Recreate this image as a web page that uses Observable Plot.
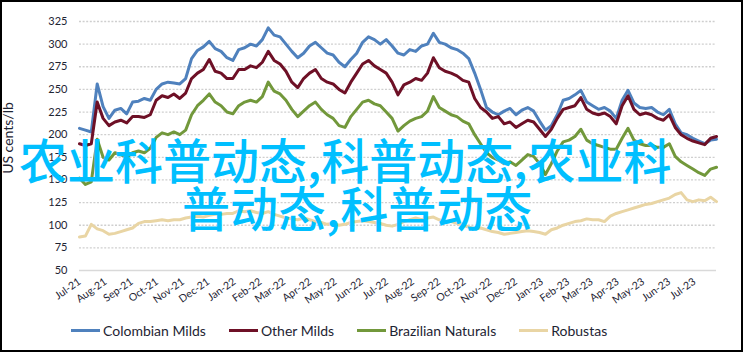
<!DOCTYPE html>
<html><head><meta charset="utf-8">
<script src="https://cdn.jsdelivr.net/npm/d3@7"></script>
<script src="https://cdn.jsdelivr.net/npm/@observablehq/plot@0.6"></script>
<style>
body{margin:0;background:#fff;}
#wrap{position:relative;width:743px;height:352px;overflow:hidden;background:#fff;font-family:Lato,sans-serif;}
#chart{position:absolute;left:0;top:0;}
#frame{position:absolute;left:0;top:0;width:743px;height:352px;box-sizing:border-box;border:2px solid #000;pointer-events:none;}
.ov{position:absolute;font-family:"Noto Sans CJK SC";font-size:48px;line-height:48px;color:#00bfff;white-space:nowrap;font-weight:500;}
#legend{position:absolute;left:71px;top:322px;display:flex;gap:23px;font-size:14px;line-height:17px;color:#1e2433;align-items:center;font-family:Lato,sans-serif;}
.item{display:flex;align-items:center;}
.sw{width:29px;height:3px;margin-right:3px;}
#ylab{position:absolute;left:8px;top:138px;transform:translate(-50%,-50%) rotate(-90deg);font-size:14px;line-height:16px;color:#1e2433;white-space:nowrap;font-family:Lato,sans-serif;}
g[aria-label="x-axis tick label"] text{font-size:10.5px;}
</style></head>
<body>
<div id="wrap">
  <div id="chart"></div>
  <div id="ylab"></div>
  <div class="ov" style="left:19px;top:134px;">农业科普动态,科普动态,农业科</div>
  <div class="ov" style="left:182px;top:182px;">普动态,科普动态</div>
  <div id="legend"></div>
  <div id="frame"></div>
</div>
<script>
const seriesNames = ["Colombian Milds", "Other Milds", "Brazilian Naturals", "Robustas"];
const seriesColors = ["#4f81bd", "#6e1026", "#72983b", "#e9d5a4"];
const yTicks = [50, 75, 100, 125, 150, 175, 200, 225, 250, 275, 300, 325];
const yTitle = "US cents/lb";
const weekStart = "2021-07-01"; // weekly observations start here

const colombianMilds = [
207,205,203,256,231,218,227,229,223,236,
237,240,238,250,256,258,257,256,262,284,
293,297,303,295,292,285,282,294,296,300,
298,305,318,310,308,300,292,285,290,298,
302,296,290,288,280,275,283,290,302,308,
305,300,305,298,290,288,294,292,298,300,
312,302,300,296,294,290,284,268,250,230,
225,222,226,229,222,227,230,226,215,205,
210,222,238,240,244,249,236,232,228,230,
226,218,238,249,235,230,229,230,225,222,
228,212,202,200,196,193,190,194,195];

const otherMilds = [
190,188,190,236,218,210,214,216,213,220,
220,219,222,238,243,241,245,240,246,262,
268,272,283,270,268,262,262,272,272,276,
274,280,292,282,278,270,258,252,262,268,
272,262,258,256,250,246,258,268,278,282,
276,272,268,258,244,255,258,262,260,268,
285,274,270,268,265,260,258,240,230,225,
218,220,212,214,208,212,216,214,206,198,
206,218,228,230,232,241,228,224,222,224,
220,212,232,243,228,222,224,222,218,216,
222,208,200,196,193,191,189,196,198];

const brazilianNaturals = [
152,145,148,195,175,172,180,178,175,180,
182,180,185,197,202,200,203,200,205,222,
232,238,245,236,232,225,223,232,236,238,
236,242,258,248,245,238,228,220,226,232,
236,228,222,218,210,208,220,228,236,238,
234,232,225,218,204,210,215,218,220,226,
242,230,226,222,220,215,212,200,190,180,
175,172,168,170,166,172,178,176,168,156,
168,182,192,194,198,206,194,190,188,186,
184,184,196,207,194,190,188,188,186,186,
190,176,170,166,162,158,155,162,164];

const robustas = [
87,88,101,96,94,90,91,93,95,97,
102,104,104,105,106,105,106,106,108,109,
110,109,111,112,112,113,113,116,115,116,
114,113,115,112,110,108,107,106,108,106,
104,103,101,102,100,101,103,104,105,104,
103,102,100,99,101,104,106,108,106,108,
109,106,104,104,102,100,98,96,97,95,
93,92,90,91,92,93,94,93,92,90,
95,97,100,102,104,105,107,106,106,104,
110,113,115,117,119,121,123,124,126,128,
130,134,136,128,126,128,127,131,126];

const allSeries = [colombianMilds, otherMilds, brazilianNaturals, robustas];
const start = new Date(weekStart + "T00:00:00Z");
const dates = colombianMilds.map((_, i) => d3.utcDay.offset(start, 7 * i));
const rows = [];
allSeries.forEach((vals, s) => vals.forEach((v, i) => rows.push({series: seriesNames[s], date: dates[i], value: v})));
const monthTicks = d3.utcMonth.range(start, d3.utcDay.offset(dates[dates.length - 1], 1));

const chart = Plot.plot({
  width: 743,
  height: 305,
  marginLeft: 79,
  marginRight: 27,
  marginTop: 21,
  marginBottom: 35,
  style: {fontFamily: "Lato, sans-serif", fontSize: "11px", color: "#1e2433", background: "transparent"},
  x: {type: "utc", domain: [dates[0], dates[dates.length - 1]], ticks: monthTicks, tickFormat: d3.utcFormat("%b-%y"), tickRotate: -35, tickSize: 0, tickPadding: 10, label: null},
  y: {domain: [50, 325], ticks: yTicks, tickSize: 0, tickPadding: 12, label: null},
  color: {domain: seriesNames, range: seriesColors},
  marks: [
    Plot.ruleY(yTicks.filter(d => d > 50), {stroke: "#cfcfcf", strokeWidth: 1.3, strokeDasharray: "2,1.6"}),
    Plot.ruleY([50], {stroke: "#d9d9d9", strokeWidth: 1.5}),
    Plot.line(rows, {x: "date", y: "value", z: "series", stroke: "series", strokeWidth: 3, strokeLinejoin: "round"})
  ]
});
document.getElementById("chart").appendChild(chart);
document.getElementById("ylab").textContent = yTitle;

const legend = document.getElementById("legend");
seriesNames.forEach((name, i) => {
  const it = document.createElement("div");
  it.className = "item";
  it.innerHTML = `<span class="sw" style="background:${seriesColors[i]}"></span><span>${name}</span>`;
  legend.appendChild(it);
});
</script>
</body></html>
